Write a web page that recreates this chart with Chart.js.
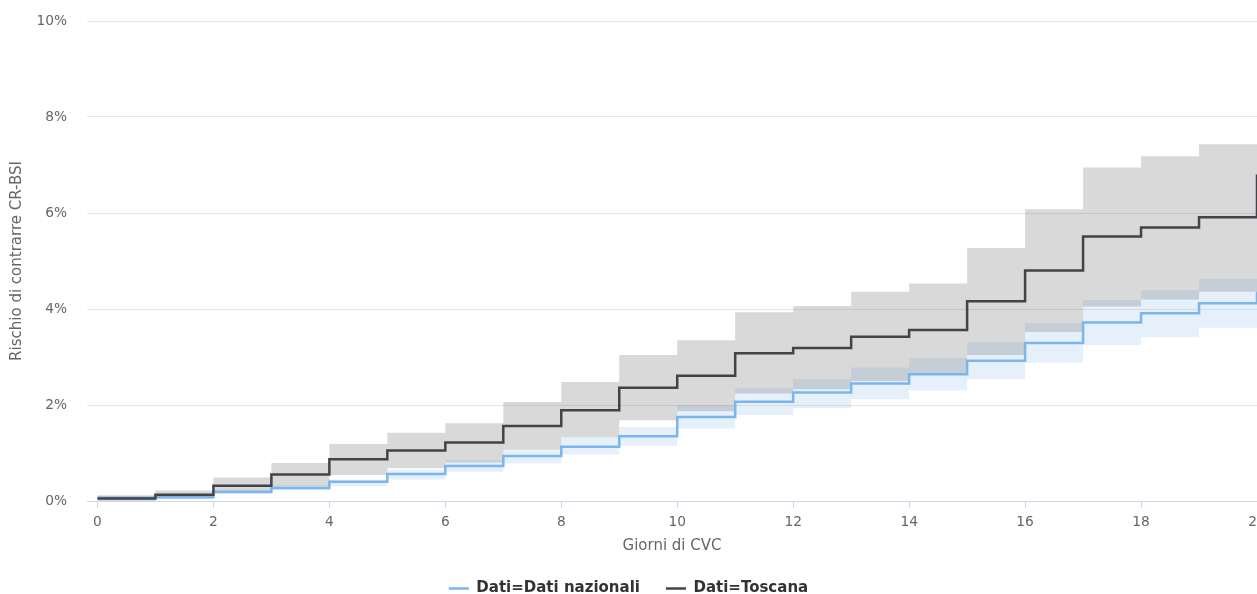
<!DOCTYPE html>
<html>
<head>
<meta charset="utf-8">
<script src="https://cdn.jsdelivr.net/npm/chart.js@4"></script>
<style>
  html, body { margin: 0; padding: 0; background: #fff; overflow: hidden; }
</style>
</head>
<body>
<canvas id="riskChart" width="1257" height="594"></canvas>
<script>
// Days of CVC and the cumulative risk curves (in %)
const days = [0, 1, 2, 3, 4, 5, 6, 7, 8, 9, 10, 11, 12, 13, 14, 15, 16, 17, 18, 19, 20];
const xTicks = [0, 2, 4, 6, 8, 10, 12, 14, 16, 18, 20];

const nazionali      = [0.07, 0.08, 0.19, 0.27, 0.40, 0.56, 0.73, 0.94, 1.13, 1.35, 1.75, 2.07, 2.26, 2.45, 2.64, 2.92, 3.29, 3.72, 3.91, 4.12, 4.36];
const nazionaliUpper = [0.10, 0.12, 0.24, 0.33, 0.45, 0.65, 0.85, 1.06, 1.33, 1.54, 2.00, 2.35, 2.54, 2.78, 2.98, 3.30, 3.71, 4.19, 4.39, 4.63, 4.90];
const nazionaliLower = [0.03, 0.05, 0.15, 0.22, 0.31, 0.45, 0.61, 0.78, 0.97, 1.15, 1.51, 1.79, 1.94, 2.12, 2.30, 2.54, 2.88, 3.25, 3.41, 3.61, 3.90];

const toscana      = [0.05, 0.13, 0.32, 0.55, 0.87, 1.05, 1.22, 1.56, 1.89, 2.36, 2.61, 3.08, 3.19, 3.42, 3.56, 4.16, 4.80, 5.51, 5.70, 5.91, 6.80];
const toscanaUpper = [0.12, 0.22, 0.49, 0.79, 1.19, 1.42, 1.62, 2.06, 2.48, 3.04, 3.35, 3.93, 4.06, 4.36, 4.53, 5.27, 6.08, 6.95, 7.18, 7.43, 8.55];
const toscanaLower = [0.00, 0.05, 0.17, 0.30, 0.54, 0.68, 0.80, 1.07, 1.33, 1.68, 1.87, 2.24, 2.33, 2.50, 2.66, 3.04, 3.52, 4.05, 4.20, 4.36, 5.02];

const FONT = "'DejaVu Sans', Verdana, sans-serif";

function points(values) {
  return days.map((d, i) => ({ x: d, y: values[i] }));
}

function lineSet(label, values, color, order) {
  return {
    label: label,
    data: points(values),
    borderColor: color,
    backgroundColor: color,
    borderWidth: 2.5,
    pointRadius: 0,
    stepped: true,
    fill: false,
    order: order
  };
}

function bandSet(values, fillColor, fillTo, order) {
  return {
    label: "",
    data: points(values),
    borderWidth: 0,
    borderColor: "rgba(0,0,0,0)",
    backgroundColor: fillColor,
    pointRadius: 0,
    stepped: true,
    fill: fillTo,
    order: order
  };
}

// push the legend row a bit lower, closer to the bottom edge
const legendShift = {
  id: "legendShift",
  afterLayout(chart) {
    chart.legend.top += 12;
    chart.legend.bottom += 12;
  }
};

const ctx = document.getElementById("riskChart");

new Chart(ctx, {
  type: "line",
  data: {
    datasets: [
      lineSet("Dati=Dati nazionali", nazionali, "#7cb5ec", 1),
      lineSet("Dati=Toscana", toscana, "#434348", 0),
      bandSet(nazionaliUpper, "rgba(124, 181, 236, 0.2)", "+1", 3),
      bandSet(nazionaliLower, "rgba(0,0,0,0)", false, 3),
      bandSet(toscanaUpper, "rgba(67, 67, 72, 0.2)", "+1", 2),
      bandSet(toscanaLower, "rgba(0,0,0,0)", false, 2)
    ]
  },
  plugins: [legendShift],
  options: {
    responsive: false,
    animation: false,
    devicePixelRatio: 1,
    layout: {
      padding: { top: 21, right: 0, bottom: 0, left: 0 }
    },
    scales: {
      x: {
        type: "linear",
        min: -0.18,
        max: 20,
        afterBuildTicks: (scale) => {
          scale.ticks = xTicks.map(v => ({ value: v }));
        },
        afterFit: (scale) => {
          scale.height = 42;
          scale.paddingRight = 0;
        },
        grid: {
          drawOnChartArea: false,
          drawTicks: true,
          tickLength: 7,
          color: "#ccd6eb"
        },
        border: { display: true, color: "#ccd6eb", width: 1 },
        ticks: {
          padding: 6,
          color: "#666666",
          maxRotation: 0,
          autoSkip: false,
          font: { family: FONT, size: 13.75 }
        },
        title: {
          display: true,
          text: "Giorni di CVC",
          color: "#666666",
          padding: { top: 0, bottom: -12 },
          font: { family: FONT, size: 15 }
        }
      },
      y: {
        min: 0,
        max: 10,
        afterFit: (scale) => {
          scale.width = 87;
          scale.paddingTop = 0;
          scale.paddingBottom = 0;
        },
        grid: {
          color: "#e6e6e6",
          drawTicks: false
        },
        border: { display: false },
        ticks: {
          stepSize: 2,
          padding: 20,
          color: "#666666",
          font: { family: FONT, size: 13.75 },
          callback: (v) => v + "%"
        },
        title: {
          display: true,
          text: "Rischio di contrarre CR-BSI",
          color: "#666666",
          padding: { top: 8, bottom: 0 },
          font: { family: FONT, size: 15 }
        }
      }
    },
    plugins: {
      legend: {
        display: true,
        position: "bottom",
        labels: {
          usePointStyle: true,
          pointStyle: "line",
          pointStyleWidth: 20,
          padding: 26,
          color: "#333333",
          font: { family: FONT, size: 15, weight: "bold" },
          filter: (item) => item.text !== "",
          sort: (a, b) => a.datasetIndex - b.datasetIndex
        }
      },
      tooltip: { enabled: false }
    }
  }
});
</script>
</body>
</html>
